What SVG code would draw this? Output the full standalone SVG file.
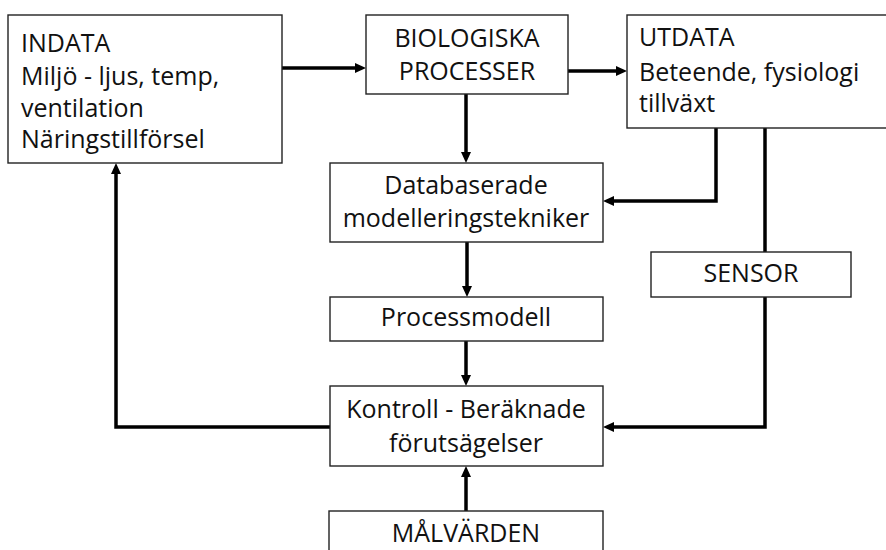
<svg xmlns="http://www.w3.org/2000/svg" width="886" height="550" viewBox="0 0 886 550">
<style>
.box{fill:#fff;stroke:#222;stroke-width:1.4}
.t{font-family:"Open Sans","Liberation Sans",sans-serif;font-size:25px;fill:#111}
.c{text-anchor:middle}
.ln{fill:none;stroke:#000;stroke-width:3.5}
</style>
<defs>
<marker id="ah" markerUnits="userSpaceOnUse" markerWidth="12" markerHeight="10" refX="3" refY="5" orient="auto">
<path d="M0,0 L11,5 L0,10 z" fill="#000"/>
</marker>
</defs>
<rect width="886" height="550" fill="#fff"/>
<g id="connectors">
<path class="ln" d="M282,68 H358" marker-end="url(#ah)"/>
<path class="ln" d="M568,71 H619" marker-end="url(#ah)"/>
<path class="ln" d="M466,94 V155" marker-end="url(#ah)"/>
<path class="ln" d="M716,128 V201 H611" marker-end="url(#ah)"/>
<path class="ln" d="M765,128 V252"/>
<path class="ln" d="M765,297 V427 H611" marker-end="url(#ah)"/>
<path class="ln" d="M467,242 V289" marker-end="url(#ah)"/>
<path class="ln" d="M466,341 V378" marker-end="url(#ah)"/>
<path class="ln" d="M330,427 H116 V171" marker-end="url(#ah)"/>
<path class="ln" d="M466,511 V474" marker-end="url(#ah)"/>
</g>
<g id="indata">
<rect class="box" x="8" y="15" width="274" height="148"/>
<text class="t" x="21" y="52">INDATA</text>
<text class="t" x="21" y="85">Miljö - ljus, temp,</text>
<text class="t" x="21" y="117">ventilation</text>
<text class="t" x="21" y="148">Näringstillförsel</text>
</g>
<g id="biologiska">
<rect class="box" x="366" y="15" width="202" height="79"/>
<text class="t c" x="467" y="47">BIOLOGISKA</text>
<text class="t c" x="467" y="80">PROCESSER</text>
</g>
<g id="utdata">
<rect class="box" x="627" y="15" width="265" height="113"/>
<text class="t" x="639" y="46">UTDATA</text>
<text class="t" x="639" y="81">Beteende, fysiologi</text>
<text class="t" x="639" y="112">tillväxt</text>
</g>
<g id="databaserade">
<rect class="box" x="330" y="163" width="273" height="79"/>
<text class="t c" x="466" y="194">Databaserade</text>
<text class="t c" x="466" y="227">modelleringstekniker</text>
</g>
<g id="sensor">
<rect class="box" x="651" y="252" width="200" height="45"/>
<text class="t c" x="751" y="282">SENSOR</text>
</g>
<g id="processmodell">
<rect class="box" x="330" y="297" width="273" height="44"/>
<text class="t c" x="466" y="326">Processmodell</text>
</g>
<g id="kontroll">
<rect class="box" x="330" y="386" width="273" height="80"/>
<text class="t c" x="466" y="418">Kontroll - Beräknade</text>
<text class="t c" x="466" y="452">förutsägelser</text>
</g>
<g id="malvarden">
<rect class="box" x="329" y="511" width="274" height="60"/>
<text class="t c" x="466" y="542">MÅLVÄRDEN</text>
</g>
</svg>
